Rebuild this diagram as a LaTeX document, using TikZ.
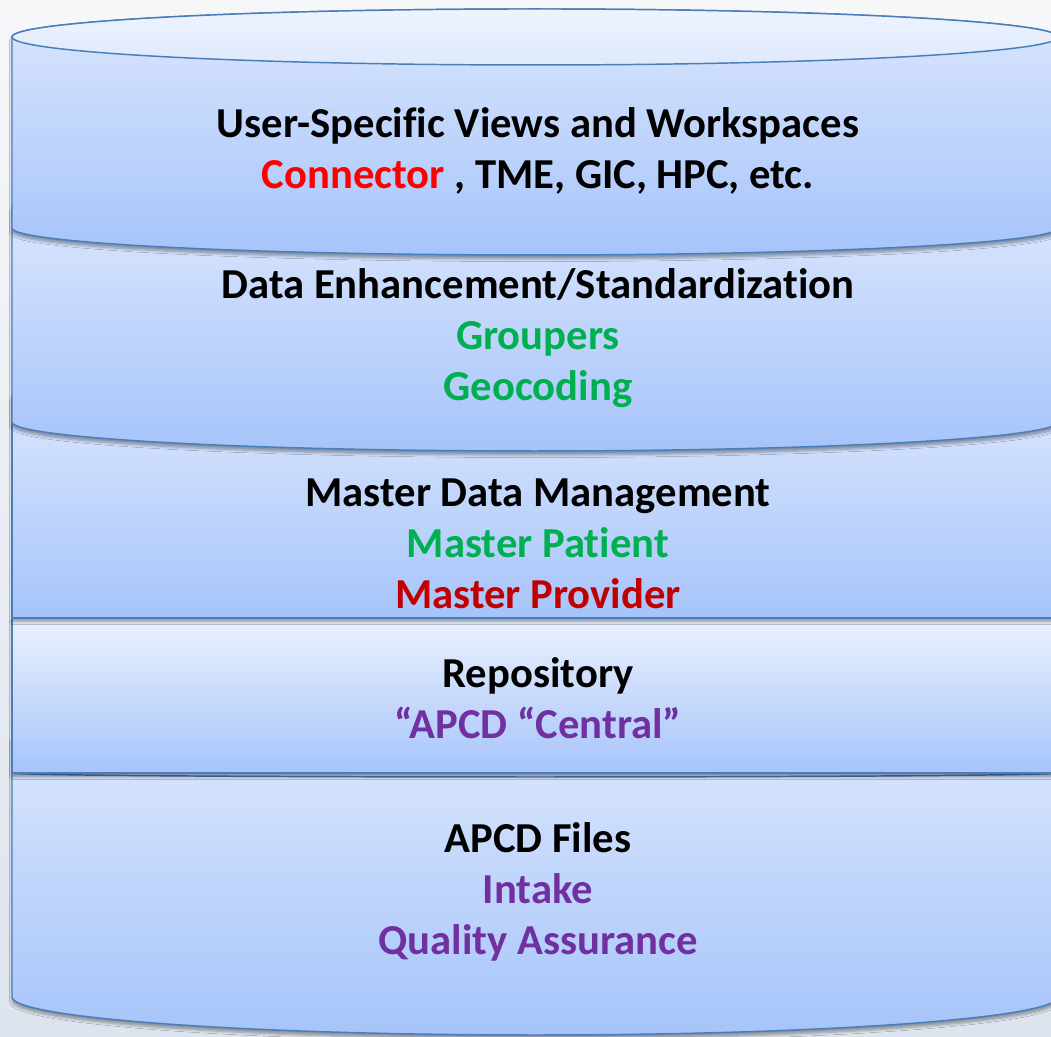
\documentclass[tikz,border=0pt]{standalone}
\usepackage{fontspec}
\setmainfont{Carlito}[Ligatures=NoCommon]
\usetikzlibrary{shadows.blur}
\definecolor{cylline}{RGB}{74,126,187}
\definecolor{laytop}{RGB}{218,230,253}
\definecolor{laybot}{RGB}{166,196,250}
\definecolor{lidtop}{RGB}{238,244,254}
\definecolor{lidbot}{RGB}{222,233,253}
\definecolor{bgtop}{RGB}{246,247,249}
\definecolor{bgbot}{RGB}{221,228,238}
\definecolor{txtred}{RGB}{255,0,0}
\definecolor{txtgreen}{RGB}{0,176,80}
\definecolor{txtdred}{RGB}{192,0,0}
\definecolor{txtpurple}{RGB}{112,48,160}
\tikzset{
  layer/.style={draw=cylline, line width=1.1pt, top color=laytop, bottom color=laybot,
    blur shadow={shadow xshift=0pt, shadow yshift=-3pt, shadow blur steps=6, shadow opacity=35}},
  lbl/.style={align=center, font=\fontsize{32}{38.3}\selectfont\bfseries},
}
\begin{document}
\begin{tikzpicture}[x=0.75pt, y=0.75pt]
    \useasboundingbox (0,0) rectangle (1051,1037);
    \fill[top color=bgtop, bottom color=bgbot] (0,0) rectangle (1051,1037);
    % APCD files
    \draw[layer] (12,300) -- (12,40) arc(180:360:523 and 38) -- (1058,300) -- cycle;
    \draw[cylline, line width=1.1pt] (12,264) arc(180:360:523 and 4);
    % repository
    \draw[layer, top color=laytop!55!white] (12,264) rectangle (1058,419);
    % master data management
    \draw[layer] (12,419) -- (12,640) -- (1058,640) -- (1058,419) -- cycle;
    % enhancement
    \draw[layer] (12,830) -- (12,615) arc(180:360:523 and 29) -- (1058,830) -- cycle;
    % user views
    \draw[layer] (12,1000) -- (12,809) arc(180:360:523 and 27) -- (1058,1000) arc(0:180:523 and 28) -- cycle;
    \draw[cylline, line width=1.1pt, top color=lidtop, bottom color=lidbot] (535,1000) ellipse (523 and 28);

    \node[lbl] (views) at (538,886) {User-Specific Views and Workspaces\\ \textcolor{txtred}{Connector} , TME, GIC, HPC, etc.};
    \node[lbl] (enhance) at (538,699) {Data Enhancement/Standardization\\ \textcolor{txtgreen}{Groupers}\\ \textcolor{txtgreen}{Geocoding}};
    \node[lbl] (mdm) at (538,493) {Master Data Management\\ \textcolor{txtgreen}{Master Patient}\\ \textcolor{txtdred}{Master Provider}};
    \node[lbl] (repo) at (538,339) {Repository\\ \textcolor{txtpurple}{“APCD “Central”}};
    \node[lbl] (files) at (538,145) {APCD Files\\ \textcolor{txtpurple}{Intake}\\ \textcolor{txtpurple}{Quality Assurance}};
\end{tikzpicture}
\end{document}
